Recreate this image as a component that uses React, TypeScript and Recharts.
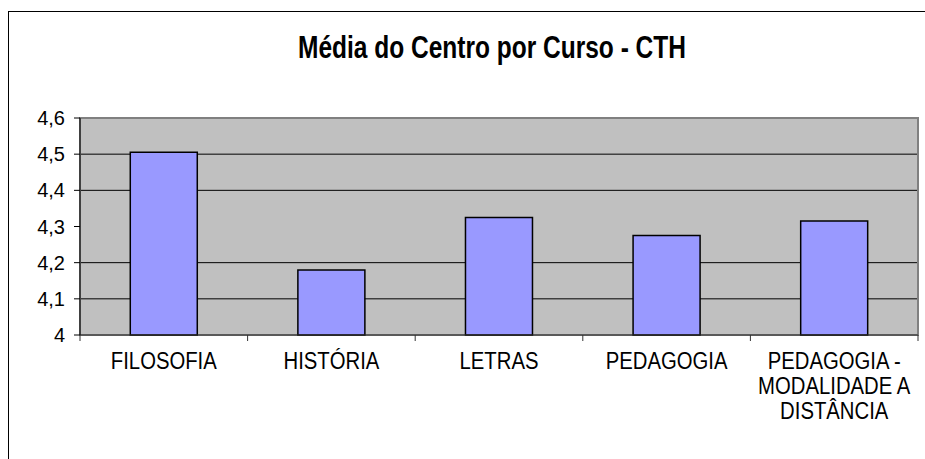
import React from 'react';
import { BarChart, Bar, XAxis, YAxis, CartesianGrid, ReferenceArea } from 'recharts';

const cursos = ['FILOSOFIA', 'HISTÓRIA', 'LETRAS', 'PEDAGOGIA', 'PEDAGOGIA - MODALIDADE A DISTÂNCIA'];
const medias = [4.505, 4.18, 4.325, 4.275, 4.315];
const yTicks = [4, 4.1, 4.2, 4.3, 4.4, 4.5, 4.6];
// grid lines visible in the picture (the 4,3 line is missing there)
const gridValues = [4.1, 4.2, 4.4, 4.5];

const data = cursos.map((curso, i) => ({ curso, media: medias[i] }));

const FONT = '"Liberation Sans", Arial, sans-serif';
const Y_MIN = yTicks[0];
const Y_MAX = yTicks[yTicks.length - 1];

// greedy word wrap, Excel style
const wrap = (text: string, max: number) => {
  const lines: string[] = [];
  let cur = '';
  text.split(' ').forEach((w) => {
    const next = cur ? cur + ' ' + w : w;
    if (next.length > max && cur) {
      lines.push(cur);
      cur = w;
    } else {
      cur = next;
    }
  });
  if (cur) lines.push(cur);
  return lines;
};

const XTick = (props: any) => {
  const { x, y, payload, index, visibleTicksCount } = props;
  const half = payload.offset ?? 83.8;
  const lines = wrap(String(payload.value), 12);
  const last = index === (visibleTicksCount ?? cursos.length) - 1;
  return (
    <g>
      <line x1={x - half} x2={x - half} y1={y - 6} y2={y} stroke="#333" />
      {last && <line x1={x + half} x2={x + half} y1={y - 6} y2={y} stroke="#333" />}
      <g transform={`translate(${x},${y + 28}) scale(1,1.22)`}>
        <text textAnchor="middle" fontFamily={FONT} fontSize={20.3} fill="#000">
          {lines.map((l, i) => (
            <tspan key={i} x={0} dy={i === 0 ? 0 : 20.5}>
              {l}
            </tspan>
          ))}
        </text>
      </g>
    </g>
  );
};

// map grid values through the y scale (linear domain of the axis)
const gridCoords = (props: any) => {
  const { yAxis, offset } = props;
  if (yAxis && typeof yAxis.scale === 'function') return gridValues.map((v) => yAxis.scale(v));
  const top = offset?.top ?? 106;
  const h = offset?.height ?? 217;
  return gridValues.map((v) => top + (h * (Y_MAX - v)) / (Y_MAX - Y_MIN));
};

export default function App() {
  return (
    <div
      style={{
        position: 'fixed',
        left: 8,
        top: 11,
        width: 917,
        height: 448,
        borderTop: '1px solid #000',
        borderLeft: '1px solid #000',
        boxSizing: 'border-box',
        background: '#fff',
      }}
    >
      <div
        style={{
          position: 'absolute',
          left: 483,
          top: 24,
          transform: 'translateX(-50%) scale(1, 1.3)',
          fontFamily: FONT,
          fontWeight: 'bold',
          fontSize: 24.5,
          lineHeight: '24px',
          whiteSpace: 'nowrap',
          color: '#000',
        }}
      >
        Média do Centro por Curso - CTH
      </div>
      <BarChart
        width={916}
        height={447}
        data={data}
        margin={{ top: 106, right: 7, left: 0, bottom: 0 }}
        barCategoryGap="30%"
      >
        <CartesianGrid
          vertical={false}
          horizontalCoordinatesGenerator={gridCoords}
          stroke="#000"
          fill="#C0C0C0"
          fillOpacity={1}
        />
        <ReferenceArea y1={Y_MIN} y2={Y_MAX} fill="none" stroke="#808080" strokeWidth={2} ifOverflow="visible" />
        <XAxis
          dataKey="curso"
          height={124}
          interval={0}
          tickSize={6}
          tickMargin={0}
          tickLine={false}
          axisLine={{ stroke: '#333' }}
          tick={<XTick />}
        />
        <YAxis
          width={71}
          domain={[Y_MIN, Y_MAX]}
          ticks={yTicks}
          interval={0}
          tickSize={6}
          tickMargin={9}
          axisLine={{ stroke: '#000' }}
          tickLine={{ stroke: '#000' }}
          tickFormatter={(v: number) => String(v).replace('.', ',')}
          tick={{ fontFamily: FONT, fontSize: 20, fill: '#000' }}
        />
        <Bar dataKey="media" fill="#9999FF" stroke="#000" strokeWidth={1.5} isAnimationActive={false} />
      </BarChart>
    </div>
  );
}
